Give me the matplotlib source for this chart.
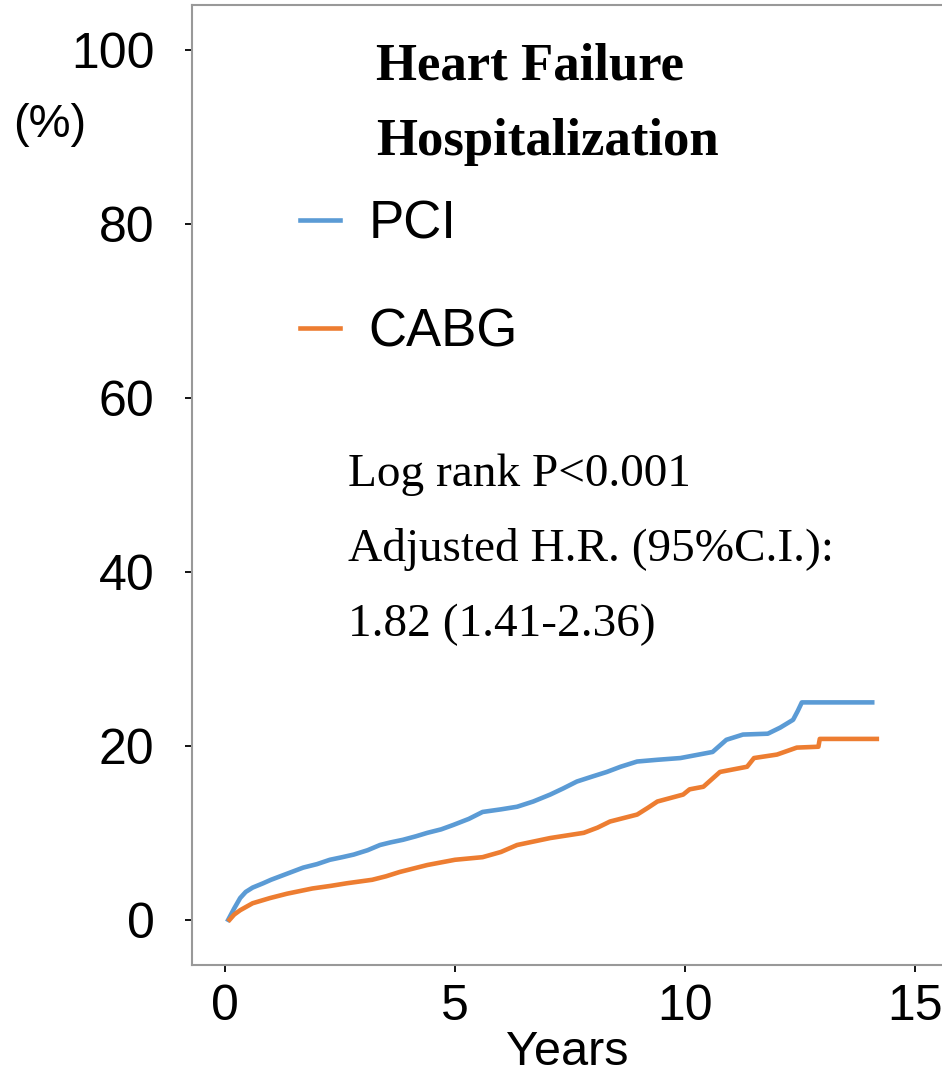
import matplotlib
matplotlib.use("Agg")
from matplotlib import pyplot as plt

# cumulative incidence (years, %)
pci_t = [0.07, 0.2, 0.33, 0.45, 0.6, 0.83, 1.0, 1.2, 1.45, 1.7, 2.0, 2.28, 2.55, 2.8,
         3.1, 3.37, 3.6, 3.87, 4.15, 4.4, 4.7, 4.96, 5.3, 5.6, 6.0, 6.35, 6.7, 7.07,
         7.35, 7.65, 8.0, 8.3, 8.6, 8.96, 9.4, 9.9, 10.3, 10.6, 10.9, 11.26, 11.8,
         12.07, 12.35, 12.45, 12.54, 14.07]
pci_v = [0.0, 1.3, 2.5, 3.2, 3.7, 4.2, 4.6, 5.0, 5.5, 6.0, 6.4, 6.9, 7.2, 7.5,
         8.0, 8.6, 8.9, 9.2, 9.6, 10.0, 10.4, 10.9, 11.6, 12.4, 12.7, 13.0, 13.6,
         14.4, 15.1, 15.9, 16.5, 17.0, 17.6, 18.2, 18.4, 18.6, 19.0, 19.3, 20.7,
         21.3, 21.4, 22.1, 23.0, 24.0, 25.0, 25.0]

cabg_t = [0.1, 0.2, 0.33, 0.6, 0.98, 1.35, 1.9, 2.3, 2.65, 3.2, 3.5, 3.8, 4.1, 4.4,
          5.0, 5.6, 6.0, 6.35, 7.07, 7.8, 8.1, 8.37, 8.96, 9.2, 9.4, 9.96, 10.1, 10.4,
          10.76, 11.35, 11.5, 12.0, 12.43, 12.9, 12.93, 14.17]
cabg_v = [0.0, 0.6, 1.1, 1.9, 2.5, 3.0, 3.6, 3.9, 4.2, 4.6, 5.0, 5.5, 5.9, 6.3,
          6.9, 7.2, 7.8, 8.6, 9.4, 10.0, 10.6, 11.3, 12.1, 12.9, 13.6, 14.4, 15.0,
          15.3, 17.0, 17.6, 18.6, 19.0, 19.8, 19.9, 20.8, 20.8]

xticks = [0, 5, 10, 15]
yticks = [0, 20, 40, 60, 80, 100]

fig = plt.figure(figsize=(9.42, 10.77), dpi=100)
ax = fig.add_axes([192 / 942, 1 - 965 / 1077, 750 / 942, 960 / 1077])

ax.plot(pci_t, pci_v, color="#5B9BD5", lw=3.3, label="PCI")
ax.plot(cabg_t, cabg_v, color="#ED7D31", lw=3.3, label="CABG")

ax.set_xlim(-0.717, 15.587)
ax.set_ylim(-5.2, 105.2)
ax.set_xticks(xticks)
ax.set_yticks(yticks)

for side in ["left", "bottom", "top"]:
    ax.spines[side].set_color("#999999")
    ax.spines[side].set_linewidth(1.5)
ax.spines["right"].set_visible(False)

ax.tick_params(axis="both", direction="out", length=5, width=1.3, color="black",
               labelsize=36)
ax.tick_params(axis="y", pad=22)
ax.tick_params(axis="x", pad=9)
for lab in ax.get_xticklabels() + ax.get_yticklabels():
    lab.set_family("Liberation Sans")

ax.set_xlabel("Years", fontsize=35, family="Liberation Sans", labelpad=0)

ax.text(-0.19, 0.875, "(%)", transform=ax.transAxes, fontsize=34,
        family="Liberation Sans", ha="center", va="center")

ax.text(0.2453, 0.922, "Heart Failure", transform=ax.transAxes, fontsize=38,
        family="Liberation Serif", weight="bold", va="baseline")
ax.text(0.2453, 0.844, "Hospitalization", transform=ax.transAxes, fontsize=38,
        family="Liberation Serif", weight="bold", va="baseline")

leg = ax.legend(loc="upper left", bbox_to_anchor=(0.081, 0.847), frameon=False,
                prop={"family": "Liberation Sans", "size": 38},
                handlelength=0.75, handletextpad=0.55, labelspacing=1.1)

notes = ["Log rank P<0.001", "Adjusted H.R. (95%C.I.):", "1.82 (1.41-2.36)"]
for i, s in enumerate(notes):
    ax.text(0.2084, 0.499 - i * 0.078, s, transform=ax.transAxes, fontsize=34,
            family="Liberation Serif", va="baseline")

fig.savefig("out.png", dpi=100)
